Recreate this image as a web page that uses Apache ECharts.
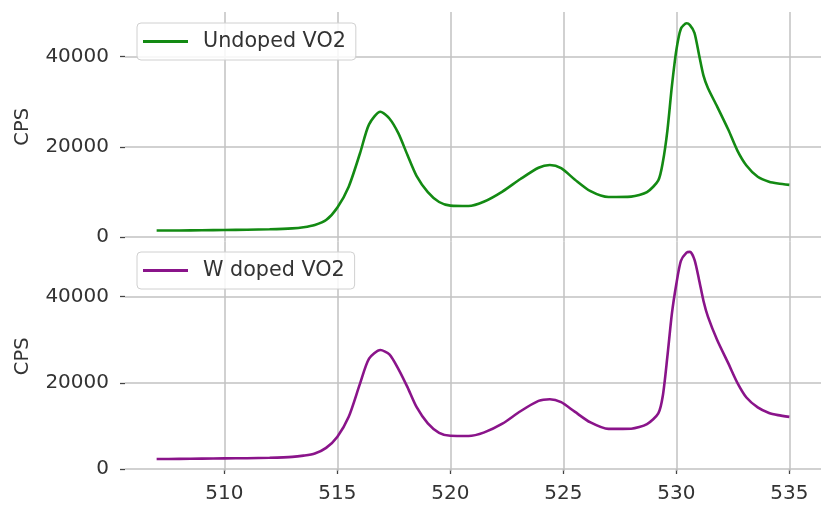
<!DOCTYPE html>
<html>
<head>
<meta charset="utf-8">
<script src="https://cdn.jsdelivr.net/npm/echarts@6/dist/echarts.min.js"></script>
<style>
  html, body { margin: 0; padding: 0; background: #ffffff; }
  #chart { width: 821px; height: 506px; }
</style>
</head>
<body>
<div id="chart"></div>
<script>
// Binding energy (eV) sample positions shared by both spectra
const energy = [
  507, 508, 509, 510, 511, 512, 513, 513.5, 514, 514.5,
  515, 515.5, 516, 516.4, 516.9, 517.3, 517.7, 518.1, 518.5, 519,
  519.5, 520, 520.8, 521.5, 522.3, 523.1, 523.9, 524.4, 524.9, 525.5,
  526.2, 527, 528, 528.7, 529.2, 529.4, 529.6, 529.8, 530, 530.2,
  530.45, 530.6, 530.8, 531, 531.2, 531.4, 531.8, 532.3, 532.7, 533.1,
  533.6, 534.1, 534.5, 535
];

// Counts per second, undoped VO2
const undoped = [
  1500, 1500, 1550, 1600, 1650, 1750, 1950, 2200, 2700, 3800,
  6600, 11200, 18600, 25000, 27800, 26300, 23000, 18200, 13600, 10000,
  7800, 7000, 6900, 7900, 10100, 12900, 15400, 16000, 15300, 12800,
  10200, 8900, 9000, 10000, 12600, 16600, 23500, 33400, 41500, 46200,
  47400, 47000, 45300, 40500, 35800, 33000, 29000, 23800, 19200, 15900,
  13400, 12300, 11900, 11600
];

// Counts per second, W doped VO2
const wDoped = [
  2300, 2350, 2400, 2450, 2500, 2600, 2800, 3100, 3600, 4900,
  7500, 12100, 19800, 25600, 27600, 26600, 23200, 19000, 14400, 10600,
  8400, 7700, 7650, 8500, 10500, 13400, 15800, 16200, 15500, 13300,
  10800, 9300, 9350, 10400, 12900, 17000, 26000, 36000, 43000, 48300,
  50200, 50400, 48600, 44000, 39000, 35300, 30000, 24500, 20000, 16600,
  14300, 13000, 12500, 12100
];

const xTicks = [510, 515, 520, 525, 530, 535];
const yTicks = [0, 20000, 40000];
const seriesNames = ['Undoped VO2', 'W doped VO2'];
const seriesColors = ['#138a13', '#8a148a'];

const FONT = 'DejaVu Sans';
const gridColor = '#c2c2c2';
const textColor = '#333333';
const plain = v => String(v);

const chart = echarts.init(document.getElementById('chart'), null, { renderer: 'canvas' });

function xAxisFor(gridIndex, showLabels) {
  return {
    type: 'value', gridIndex: gridIndex,
    min: 505.6, max: 536.4,
    axisLine: { show: false },
    axisTick: showLabels
      ? { show: true, length: 5, customValues: xTicks, lineStyle: { color: '#444', width: 1.3 } }
      : { show: false },
    axisLabel: showLabels
      ? { show: true, customValues: xTicks, formatter: plain, margin: 13, color: textColor,
          fontFamily: FONT, fontSize: 20 }
      : { show: false },
    splitLine: { show: false }
  };
}

function yAxisFor(gridIndex, min, max) {
  return {
    type: 'value', gridIndex: gridIndex,
    min: min, max: max,
    name: 'CPS', nameLocation: 'middle', nameGap: 92, nameRotate: 90,
    nameTextStyle: { color: textColor, fontFamily: FONT, fontSize: 19.5 },
    axisLine: { show: false },
    axisTick: { show: true, length: 5, customValues: yTicks, lineStyle: { color: '#444', width: 1.3 } },
    axisLabel: { show: true, customValues: yTicks, formatter: plain, margin: 16, color: textColor,
                 fontFamily: FONT, fontSize: 20 },
    splitLine: { show: false }
  };
}

// Grid lines at the tick positions, placed through each panel's own axes
function gridLines() {
  return {
    silent: true, symbol: 'none', z: 1, animation: false,
    label: { show: false },
    emphasis: { disabled: true },
    lineStyle: { color: gridColor, width: 1.5, type: 'solid' },
    data: xTicks.map(v => ({ xAxis: v })).concat(yTicks.map(v => ({ yAxis: v })))
  };
}

function legendFor(index, top) {
  return {
    data: [{ name: seriesNames[index], icon: 'rect' }],
    left: 137, top: top,
    orient: 'vertical',
    itemWidth: 45, itemHeight: 3,
    padding: [8, 10, 8, 6],
    backgroundColor: 'rgba(255,255,255,0.85)',
    borderColor: '#d0d0d0', borderWidth: 1, borderRadius: 4,
    textStyle: { color: textColor, fontFamily: FONT, fontSize: 20.7, padding: [0, 0, 0, 10] },
    selectedMode: false
  };
}

const option = {
  backgroundColor: '#ffffff',
  animation: false,
  grid: [
    { left: 125, top: 12, width: 704, height: 229.5 },
    { left: 125, top: 241.5, width: 704, height: 229.5 }
  ],
  xAxis: [xAxisFor(0, false), xAxisFor(1, true)],
  yAxis: [yAxisFor(0, -950, 49900), yAxisFor(1, -470, 52800)],
  legend: [legendFor(0, 23), legendFor(1, 252)],
  series: [
    {
      name: seriesNames[0], type: 'line', xAxisIndex: 0, yAxisIndex: 0,
      data: energy.map((e, i) => [e, undoped[i]]),
      showSymbol: false, smooth: 0.25,
      lineStyle: { color: seriesColors[0], width: 2.6 },
      itemStyle: { color: seriesColors[0] }, z: 3,
      markLine: gridLines()
    },
    {
      name: seriesNames[1], type: 'line', xAxisIndex: 1, yAxisIndex: 1,
      data: energy.map((e, i) => [e, wDoped[i]]),
      showSymbol: false, smooth: 0.25,
      lineStyle: { color: seriesColors[1], width: 2.6 },
      itemStyle: { color: seriesColors[1] }, z: 3,
      markLine: gridLines()
    }
  ]
};

chart.setOption(option);
</script>
</body>
</html>
